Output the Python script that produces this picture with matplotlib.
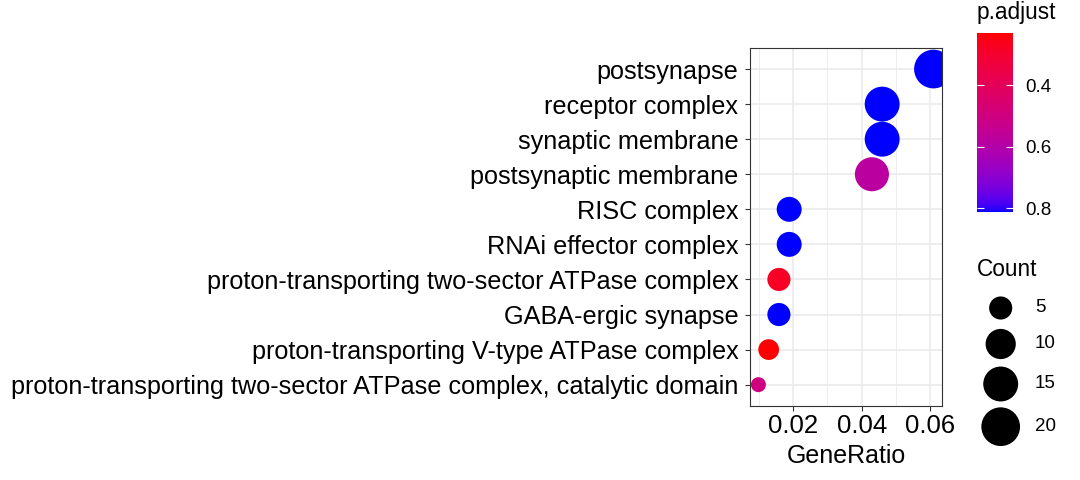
# coding: utf-8
import numpy as np
import matplotlib
matplotlib.use("Agg")
import matplotlib.pyplot as plt
from matplotlib.colors import ListedColormap, Normalize
from matplotlib.cm import ScalarMappable

# ================= 数据 =================
terms = [
    "postsynapse",
    "receptor complex",
    "synaptic membrane",
    "postsynaptic membrane",
    "RISC complex",
    "RNAi effector complex",
    "proton-transporting two-sector ATPase complex",
    "GABA-ergic synapse",
    "proton-transporting V-type ATPase complex",
    "proton-transporting two-sector ATPase complex, catalytic domain",
]
gene_ratio = [0.0610, 0.0460, 0.0460, 0.0430, 0.0188, 0.0188, 0.0158, 0.0158, 0.0128, 0.0098]
counts = [20, 15, 15, 14, 6, 6, 5, 5, 4, 3]
p_adjust = [0.812, 0.812, 0.812, 0.58, 0.812, 0.812, 0.28, 0.812, 0.231, 0.50]

x_ticks = [0.02, 0.04, 0.06]
cbar_ticks = [0.4, 0.6, 0.8]
size_breaks = [5, 10, 15, 20]

# ================= 配置 =================
FONT = "Liberation Sans"
plt.rcParams["font.family"] = [FONT, "DejaVu Sans"]
GRID_COLOR = "#EBEBEB"
DARK = "#333333"
PX = 0.72  # 1 px -> pt at dpi 100


# ggplot 风格的 Lab 插值颜色 (low=red, high=blue)
def srgb_to_lab(rgb):
    c = np.asarray(rgb, float)
    lin = np.where(c <= 0.04045, c / 12.92, ((c + 0.055) / 1.055) ** 2.4)
    m = np.array([[0.4124, 0.3576, 0.1805],
                  [0.2126, 0.7152, 0.0722],
                  [0.0193, 0.1192, 0.9505]])
    xyz = m @ lin / np.array([0.95047, 1.0, 1.08883])
    f = np.where(xyz > 0.008856, np.cbrt(xyz), 7.787 * xyz + 16 / 116)
    return np.array([116 * f[1] - 16, 500 * (f[0] - f[1]), 200 * (f[1] - f[2])])


def lab_to_srgb(lab):
    L, a, b = lab
    fy = (L + 16) / 116
    fx = fy + a / 500
    fz = fy - b / 200
    f = np.array([fx, fy, fz])
    xyz = np.where(f ** 3 > 0.008856, f ** 3, (f - 16 / 116) / 7.787)
    xyz = xyz * np.array([0.95047, 1.0, 1.08883])
    minv = np.array([[3.2406, -1.5372, -0.4986],
                     [-0.9689, 1.8758, 0.0415],
                     [0.0557, -0.2040, 1.0570]])
    lin = np.clip(minv @ xyz, 0, 1)
    c = np.where(lin <= 0.0031308, 12.92 * lin, 1.055 * lin ** (1 / 2.4) - 0.055)
    return np.clip(c, 0, 1)


lab_red = srgb_to_lab([1, 0, 0])
lab_blue = srgb_to_lab([0, 0, 1])
cmap = ListedColormap([lab_to_srgb(lab_red + t * (lab_blue - lab_red))
                       for t in np.linspace(0, 1, 256)])
norm = Normalize(vmin=min(p_adjust), vmax=max(p_adjust))


# 点大小 (ggplot area palette)
def diameter_px(c):
    lo, hi = min(counts), max(counts)
    return 15 + 23.7 * np.sqrt((np.asarray(c, float) - lo) / (hi - lo))


def size_pts2(c):
    return (diameter_px(c) * PX) ** 2


# ================= 绘图 =================
fig = plt.figure(figsize=(10.8, 4.8), dpi=100)
ax = fig.add_axes([750 / 1080, 1 - 405.7 / 480, 192 / 1080, 357.7 / 480])

ypos = np.arange(len(terms))[::-1] + 1
ax.scatter(gene_ratio, ypos, s=size_pts2(counts), c=p_adjust, cmap=cmap, norm=norm,
           linewidths=0, zorder=3, clip_on=True)

ax.set_xlim(0.00734, 0.0635)
ax.set_ylim(0.4, len(terms) + 0.6)
ax.set_xticks(x_ticks)
ax.set_xticklabels([f"{t:.2f}" for t in x_ticks])
ax.set_xticks([0.01, 0.03, 0.05], minor=True)
ax.set_yticks(ypos)
ax.set_yticklabels(terms)

ax.grid(True, which="major", color=GRID_COLOR, linewidth=1.2, zorder=0)
ax.grid(True, which="minor", axis="x", color=GRID_COLOR, linewidth=0.6, zorder=0)
ax.set_axisbelow(True)
for sp in ax.spines.values():
    sp.set_color(DARK)
    sp.set_linewidth(0.8)

ax.tick_params(axis="both", which="major", length=3.5, width=0.8, color=DARK,
               labelcolor="black", pad=4.8)
ax.tick_params(axis="x", which="minor", length=0)
ax.tick_params(axis="y", labelsize=18.2)
ax.tick_params(axis="x", labelsize=18.5, pad=2.5)
ax.set_xlabel("GeneRatio", fontsize=18, labelpad=4)

# 颜色条
cax = fig.add_axes([977 / 1080, 1 - 212 / 480, 35.7 / 1080, 179 / 480])
cb = fig.colorbar(ScalarMappable(norm=norm, cmap=cmap), cax=cax)
cb.outline.set_visible(False)
cax.invert_yaxis()
cb.set_ticks(cbar_ticks)
cb.set_ticklabels([f"{t:.1f}" for t in cbar_ticks])
cax.yaxis.set_ticks_position("both")
cax.tick_params(axis="y", direction="in", length=5, width=0.8, color="white",
                labelsize=13.5, labelcolor="black", pad=9, labelleft=False,
                labelright=True)
fig.text(977 / 1080, 1 - 13 / 480, "p.adjust", fontsize=16.3, va="center", ha="left")

# 大小图例
lax = fig.add_axes([0, 0, 1, 1], facecolor="none")
lax.set_xlim(0, 1080)
lax.set_ylim(480, 0)
lax.axis("off")
key_y = [308, 344, 384, 426.7]
lax.scatter([1000.7] * len(size_breaks), key_y, s=size_pts2(size_breaks),
            color="black", linewidths=0)
for yk, b in zip(key_y, size_breaks):
    lax.text(1035, yk, str(b), fontsize=13.5, va="center", ha="left")
lax.text(977, 269, "Count", fontsize=16.3, va="center", ha="left")

fig.savefig("out.png", dpi=100)
